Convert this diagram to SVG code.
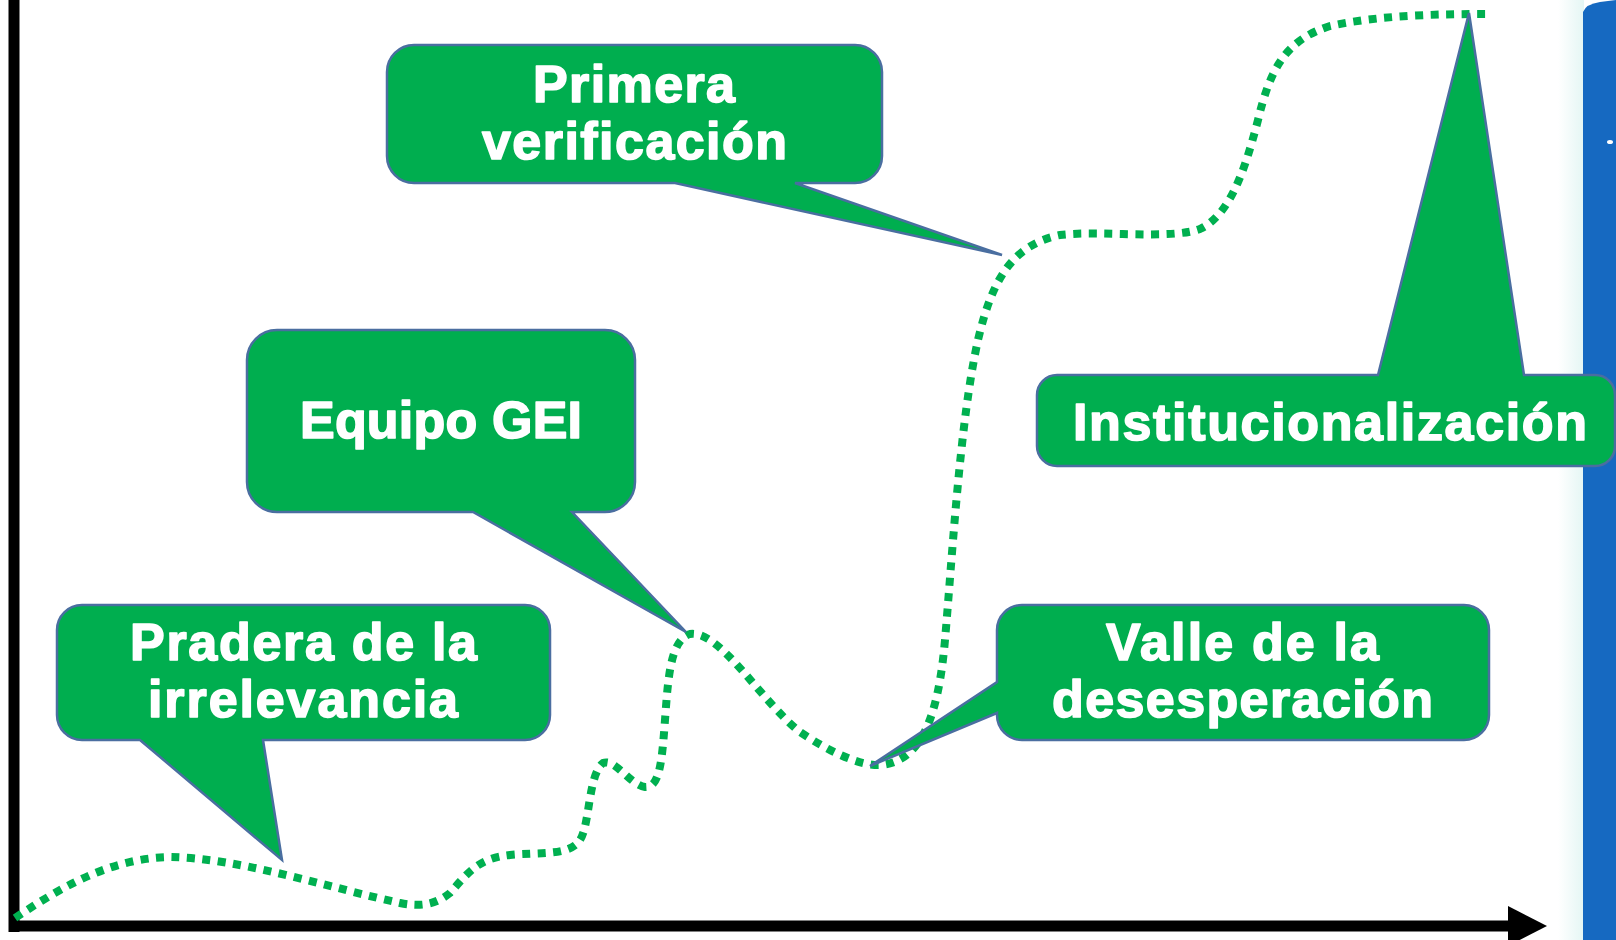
<svg xmlns="http://www.w3.org/2000/svg" width="1616" height="940" viewBox="0 0 1616 940">
<defs>
<linearGradient id="fade" x1="0" y1="0" x2="1" y2="0">
<stop offset="0" stop-color="#ffffff"/>
<stop offset="1" stop-color="#e4f6f4"/>
</linearGradient>
<style>
.callout{fill:#00AE4F;stroke:#4A6EA0;stroke-width:2.5;stroke-linejoin:miter}
.lbl{font-family:"Liberation Sans",Arial,sans-serif;font-weight:bold;font-size:52px;fill:#ffffff;stroke:#ffffff;stroke-width:1.6;stroke-linejoin:round}
.curve{fill:none;stroke:#00B050;stroke-width:8;stroke-dasharray:8 7.5}
.axis{stroke:#000000;stroke-width:11;fill:none}
</style>
</defs>
<rect x="0" y="0" width="1616" height="940" fill="#ffffff"/>
<g id="side-band">
<rect x="1558" y="0" width="26" height="940" fill="url(#fade)"/>
<path d="M1583,12 Q1586,4 1600,2 L1616,0 V940 H1583 Z" fill="#1669C1"/>
<ellipse cx="1610" cy="142" rx="3" ry="2" fill="#ffffff"/>
</g>
<g id="axes">
<line class="axis" x1="14" y1="0" x2="14" y2="932"/>
<line class="axis" x1="9" y1="926" x2="1512" y2="926" stroke-width="12"/>
<polygon points="1508,906 1547,926 1508,946" fill="#000000"/>
</g>
<g id="connectors">
<path class="curve" d="M15,918 C60,888 110,858 170,857 C240,858 330,888 400,903 C420,907 435,905 450,893 C470,870 480,858 510,855 C540,852 570,856 580,840 C590,825 588,775 603,763 C615,758 630,785 645,787 C660,788 662,760 665,720 C668,680 670,640 690,634 C720,630 760,700 800,732 C830,752 860,766 880,765 C920,762 938,720 945,640 C952,560 960,420 978,340 C992,280 1012,245 1060,235 C1100,230 1170,240 1200,229 C1230,215 1245,170 1258,120 C1270,70 1285,40 1330,26 C1380,15 1440,14 1488,14"/>
</g>
<g id="node-pradera">
<path class="callout" d="M82,605 H525 A25,25 0 0 1 550,630 V715 A25,25 0 0 1 525,740 H263 L282,860 L140,740 H82 A25,25 0 0 1 57,715 V630 A25,25 0 0 1 82,605 Z"/>
<text class="lbl" x="130" y="660" textLength="347" lengthAdjust="spacing">Pradera de la</text>
<text class="lbl" x="148" y="717" textLength="310" lengthAdjust="spacing">irrelevancia</text>
</g>
<g id="node-equipo">
<path class="callout" d="M277,330 H605 A30,30 0 0 1 635,360 V482 A30,30 0 0 1 605,512 H572 L686,632 L473,512 H277 A30,30 0 0 1 247,482 V360 A30,30 0 0 1 277,330 Z"/>
<text class="lbl" x="300" y="438" textLength="282" lengthAdjust="spacing">Equipo GEI</text>
</g>
<g id="node-primera">
<path class="callout" d="M414,45 H855 A27,27 0 0 1 882,72 V156 A27,27 0 0 1 855,183 H795 L1002,255 L675,183 H414 A27,27 0 0 1 387,156 V72 A27,27 0 0 1 414,45 Z"/>
<text class="lbl" x="533" y="102" textLength="202" lengthAdjust="spacing">Primera</text>
<text class="lbl" x="482" y="159" textLength="305" lengthAdjust="spacing">verificación</text>
</g>
<g id="node-valle">
<path class="callout" d="M1022,605 H1464 A25,25 0 0 1 1489,630 V715 A25,25 0 0 1 1464,740 H1022 A25,25 0 0 1 997,715 V713 L870,766 L997,682 V630 A25,25 0 0 1 1022,605 Z"/>
<text class="lbl" x="1106" y="660" textLength="273" lengthAdjust="spacing">Valle de la</text>
<text class="lbl" x="1052" y="717" textLength="381" lengthAdjust="spacing">desesperación</text>
</g>
<g id="node-institucionalizacion">
<path class="callout" d="M1057,375 H1378 L1469,13 L1524,375 H1595 A20,20 0 0 1 1615,395 V446 A20,20 0 0 1 1595,466 H1057 A20,20 0 0 1 1037,446 V395 A20,20 0 0 1 1057,375 Z"/>
<text class="lbl" x="1073" y="440" textLength="514" lengthAdjust="spacing">Institucionalización</text>
</g>
</svg>
